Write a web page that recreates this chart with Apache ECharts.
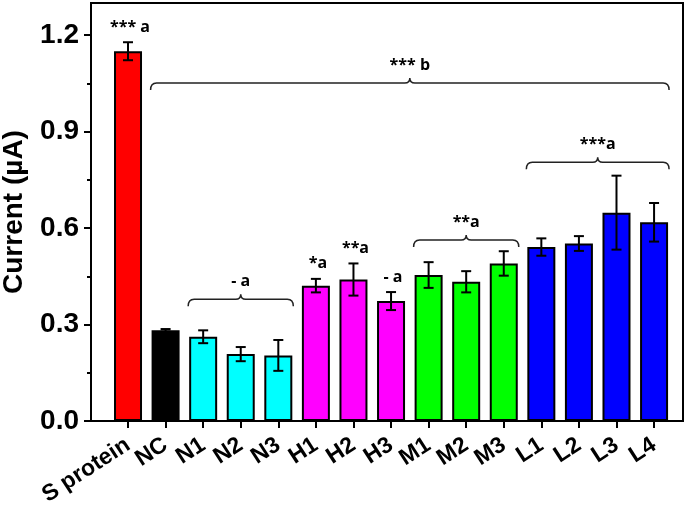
<!DOCTYPE html>
<html>
<head>
<meta charset="utf-8">
<script src="https://cdn.jsdelivr.net/npm/echarts@6/dist/echarts.min.js"></script>
<style>
html,body{margin:0;padding:0;background:#fff;}
#chart{width:688px;height:506px;}
</style>
</head>
<body>
<div id="chart"></div>
<script>
// ---- data ----
const categories = ['S protein','NC','N1','N2','N3','H1','H2','H3','M1','M2','M3','L1','L2','L3','L4'];
const groups     = ['S','NC','N','N','N','H','H','H','M','M','M','L','L','L','L'];
const values     = [1.150, 0.282, 0.262, 0.208, 0.204, 0.421, 0.440, 0.373, 0.454, 0.433, 0.490, 0.541, 0.552, 0.648, 0.618];
const errors     = [0.028, 0.004, 0.020, 0.022, 0.048, 0.021, 0.050, 0.028, 0.040, 0.033, 0.038, 0.027, 0.023, 0.115, 0.060];
const yTickValues  = [0, 0.3, 0.6, 0.9, 1.2];
const yMinorValues = [0.15, 0.45, 0.75, 1.05];
// single-bar significance marks
const markCats = ['S protein','H1','H2','H3'];
const markText = ['*** a','*a','**a','- a'];
// bracket annotations
const braceFrom  = ['NC','N1','M1','L1'];
const braceTo    = ['L4','N3','M3','L4'];
const braceLevel = [1.051, 0.379, 0.563, 0.805];
const braceText  = ['*** b','- a','**a','***a'];

// ---- styles ----
const groupColors = {S:'#ff0000', NC:'#000000', N:'#00ffff', H:'#ff00ff', M:'#00ff00', L:'#0000ff'};
const annFont = 'bold 16px "Open Sans", Lato, sans-serif';
const axisFont = '"Liberation Sans", Arial, sans-serif';

const chart = echarts.init(document.getElementById('chart'), null, {renderer:'canvas'});

const barData = values.map((v,i)=>({value:[i,v], itemStyle:{color:groupColors[groups[i]]}}));
const errData = values.map((v,i)=>[i, v-errors[i], v+errors[i]]);
const markData = markCats.map((c,k)=>{const i=categories.indexOf(c); return [i, values[i]+errors[i]];});
const braceData = braceFrom.map((c,k)=>[categories.indexOf(c), categories.indexOf(braceTo[k]), braceLevel[k]]);
const xTickValues = categories.map((c,i)=>i);
const xEven = xTickValues.filter(i=>i%2===0);
const xOdd  = xTickValues.filter(i=>i%2===1);

const xLabelStyle = {formatter:v=>categories[Math.round(v)]||'',
  showMinLabel:true, showMaxLabel:true, hideOverlap:false,
  rotate:33, margin:22, fontSize:23, fontWeight:'bold', color:'#000', fontFamily:axisFont};

const option = {
  animation:false,
  backgroundColor:'#fff',
  grid:{left:91, right:5, top:3, bottom:85, outerBoundsMode:'none', containLabel:false,
        show:true, borderColor:'#000', borderWidth:2, backgroundColor:'transparent'},
  xAxis:[{
    type:'value', min:-0.985, max:14.77, position:'bottom',
    axisLine:{show:true, onZero:false, lineStyle:{color:'#000', width:2}},
    axisTick:{show:true, length:7, customValues:xTickValues, lineStyle:{color:'#000', width:2}},
    axisLabel:Object.assign({customValues:xEven}, xLabelStyle),
    splitLine:{show:false}
  },{
    type:'value', min:-0.985, max:14.77, position:'bottom', offset:0,
    axisLine:{show:false, onZero:false},
    axisTick:{show:false},
    axisLabel:Object.assign({customValues:xOdd}, xLabelStyle),
    splitLine:{show:false}
  }],
  yAxis:[{
    type:'value', min:0, max:1.3,
    axisLine:{show:true, onZero:false, lineStyle:{color:'#000', width:2}},
    axisTick:{show:true, length:7, customValues:yTickValues, lineStyle:{color:'#000', width:2}},
    axisLabel:{customValues:yTickValues, formatter:v=>v.toFixed(1), fontSize:28, fontWeight:'bold', color:'#000', fontFamily:axisFont, margin:12},
    splitLine:{show:false},
    name:'Current (µA)', nameLocation:'middle', nameGap:63,
    nameTextStyle:{fontSize:28, fontWeight:'bold', color:'#000', fontFamily:axisFont}
  },{
    type:'value', min:0, max:1.3, position:'left',
    axisLine:{show:false, onZero:false},
    axisTick:{show:true, length:4, customValues:yMinorValues, lineStyle:{color:'#000', width:2}},
    axisLabel:{show:false}, splitLine:{show:false}
  }],
  series:[
    {type:'bar', data:barData, barWidth:28, itemStyle:{borderColor:'#000', borderWidth:2}},
    {type:'custom', data:errData, z:5,
      renderItem:(params, api)=>{
        const i=api.value(0);
        const lo=api.coord([i, api.value(1)]), hi=api.coord([i, api.value(2)]);
        const w=5, st={stroke:'#000', lineWidth:2};
        return {type:'group', children:[
          {type:'line', shape:{x1:hi[0],y1:hi[1],x2:lo[0],y2:lo[1]}, style:st},
          {type:'line', shape:{x1:hi[0]-w,y1:hi[1],x2:hi[0]+w,y2:hi[1]}, style:st},
          {type:'line', shape:{x1:lo[0]-w,y1:lo[1],x2:lo[0]+w,y2:lo[1]}, style:st}
        ]};
      }},
    {type:'custom', data:markData, z:6,
      renderItem:(params, api)=>{
        const p=api.coord([api.value(0), api.value(1)]);
        return {type:'text', style:{text:markText[params.dataIndex], x:p[0]+2, y:p[1]-7, fill:'#000', font:annFont, align:'center', verticalAlign:'bottom'}};
      }},
    {type:'custom', data:braceData, z:6,
      renderItem:(params, api)=>{
        const a=api.coord([api.value(0), api.value(2)]);
        const b=api.coord([api.value(1), api.value(2)]);
        const x1=a[0]-15, x2=b[0]+15, y0=a[1], xm=(x1+x2)/2;
        const d='M'+x1+' '+(y0+7)+' Q'+x1+' '+y0+' '+(x1+6)+' '+y0+
          ' L'+(xm-5)+' '+y0+' Q'+xm+' '+y0+' '+xm+' '+(y0-5)+
          ' Q'+xm+' '+y0+' '+(xm+5)+' '+y0+' L'+(x2-6)+' '+y0+
          ' Q'+x2+' '+y0+' '+x2+' '+(y0+7);
        return {type:'group', children:[
          {type:'path', shape:{pathData:d}, style:{stroke:'#222', lineWidth:1.5, fill:null}},
          {type:'text', style:{text:braceText[params.dataIndex], x:xm, y:y0-10, fill:'#000', font:annFont, align:'center', verticalAlign:'bottom'}}
        ]};
      }}
  ]
};
chart.setOption(option);
</script>
</body>
</html>
